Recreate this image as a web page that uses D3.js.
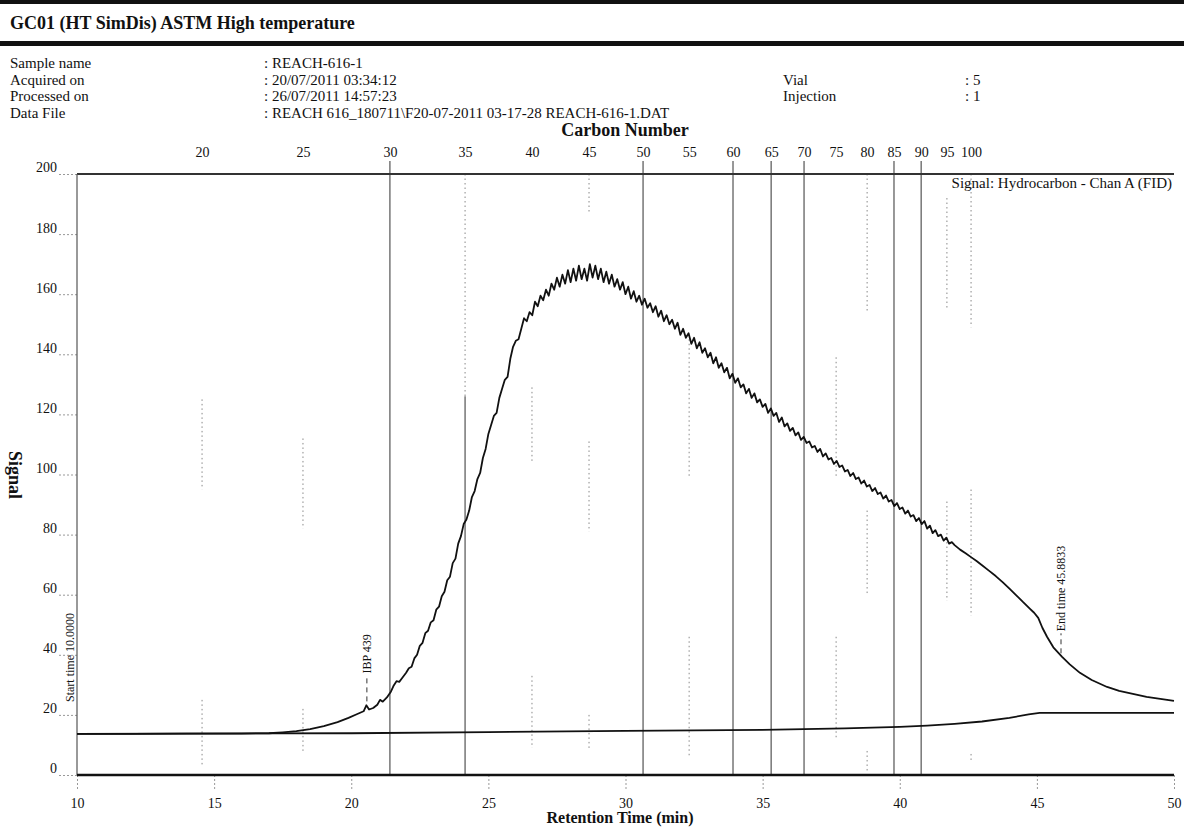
<!DOCTYPE html>
<html>
<head>
<meta charset="utf-8">
<script src="https://cdn.jsdelivr.net/npm/d3@7"></script>
<style>
  html, body { margin: 0; padding: 0; background: #fff; }
  svg { display: block; }
  text { font-family: "Liberation Serif", "Times New Roman", serif; fill: #111; }
</style>
</head>
<body>
<svg id="chart" width="1184" height="827"></svg>
<script>
// ---------- Data ----------
const title = "GC01 (HT SimDis) ASTM High temperature";
const metaLabels = ["Sample name", "Acquired on", "Processed on", "Data File"];
const metaValues = [": REACH-616-1", ": 20/07/2011 03:34:12", ": 26/07/2011 14:57:23",
  ": REACH 616_180711\\F20-07-2011 03-17-28 REACH-616-1.DAT"];
const metaLabels2 = ["Vial", "Injection"];
const metaValues2 = [": 5", ": 1"];

const timeTicks = [10, 15, 20, 25, 30, 35, 40, 45, 50];
const signalTicks = [0, 20, 40, 60, 80, 100, 120, 140, 160, 180, 200];

const carbonNumbers = [20, 25, 30, 35, 40, 45, 50, 55, 60, 65, 70, 75, 80, 85, 90, 95, 100];
const carbonTimes = [14.56, 18.24, 21.41, 24.15, 26.59, 28.67, 30.64, 32.32, 33.92, 35.31, 36.51, 37.68, 38.81, 39.79, 40.78, 41.72, 42.60];
const carbonSolid = [30, 35, 50, 60, 65, 70, 85, 90];
const carbonSolidTop = [205, 126, 205, 205, 205, 205, 205, 205]; // signal level where the solid part starts
// dotted marker segments [carbon, from signal, to signal]
const carbonDotted = [
  [20, 125, 95], [20, 25, 3],
  [25, 112, 82], [25, 22, 8],
  [35, 200, 126],
  [40, 129, 104], [40, 33, 9],
  [45, 200, 187], [45, 111, 81], [45, 20, 9],
  [55, 145, 99], [55, 46, 6],
  [75, 139, 99], [75, 46, 12],
  [80, 200, 154], [80, 88, 60], [80, 8, 1],
  [95, 192, 155], [95, 91, 58],
  [100, 200, 149], [100, 95, 53], [100, 7, 5]
];

// Chromatogram signal (retention time, signal)
const signalTime = [
  10, 12, 14, 16, 17, 17.5, 18, 18.5, 19, 19.5, 19.9, 20.2, 20.45, 20.55, 20.65, 20.8, 20.95, 21.05, 21.15, 21.3, 21.45, 21.55, 21.65, 21.75, 21.85,
  22.0, 22.1, 22.2, 22.3, 22.4, 22.5, 22.6, 22.7, 22.8, 22.9,
  23.0, 23.1, 23.2, 23.3, 23.4, 23.5, 23.6, 23.7, 23.8, 23.9,
  24.0, 24.1, 24.2, 24.3, 24.4, 24.5, 24.6, 24.7, 24.8, 24.9,
  25.0, 25.1, 25.2, 25.3, 25.4, 25.5, 25.6, 25.7, 25.8, 25.9,
  26.0, 26.1, 26.2, 26.3, 26.4, 26.5, 26.6, 26.7, 26.8, 26.9,
  27.0, 27.1, 27.2, 27.3, 27.4, 27.5, 27.6, 27.7, 27.8, 27.9,
  28.0, 28.1, 28.2, 28.3, 28.4, 28.5, 28.6, 28.7, 28.8, 28.9,
  29.0, 29.1, 29.2, 29.3, 29.4, 29.5, 29.6, 29.7, 29.8, 29.9,
  30.0, 30.1, 30.2, 30.3, 30.4, 30.5, 30.6, 30.7, 30.8, 30.9,
  31.0, 31.1, 31.2, 31.3, 31.4, 31.5, 31.6, 31.7, 31.8, 31.9,
  32.0, 32.1, 32.2, 32.3, 32.4, 32.5, 32.6, 32.7, 32.8, 32.9,
  33.0, 33.1, 33.2, 33.3, 33.4, 33.5, 33.6, 33.7, 33.8, 33.9,
  34.0, 34.1, 34.2, 34.3, 34.4, 34.5, 34.6, 34.7, 34.8, 34.9,
  35.0, 35.1, 35.2, 35.3, 35.4, 35.5, 35.6, 35.7, 35.8, 35.9,
  36.0, 36.1, 36.2, 36.3, 36.4, 36.5, 36.6, 36.7, 36.8, 36.9,
  37.0, 37.1, 37.2, 37.3, 37.4, 37.5, 37.6, 37.7, 37.8, 37.9,
  38.0, 38.1, 38.2, 38.3, 38.4, 38.5, 38.6, 38.7, 38.8, 38.9,
  39.0, 39.1, 39.2, 39.3, 39.4, 39.5, 39.6, 39.7, 39.8, 39.9,
  40.0, 40.1, 40.2, 40.3, 40.4, 40.5, 40.6, 40.7, 40.8, 40.9,
  41.0, 41.1, 41.2, 41.3, 41.4, 41.5, 41.6, 41.7, 41.8, 41.9,
  42.0, 42.2, 42.4, 42.6, 42.8, 43.0, 43.25, 43.5, 43.75, 44.0, 44.25, 44.5, 44.75, 44.9,
  45.05, 45.2, 45.37, 45.6, 45.92, 46.2, 46.57, 47.0, 47.56, 48.0, 48.5, 49.0, 49.5, 50.0
];
const signalValue = [
  13.7, 13.7, 13.8, 13.8, 13.9, 14.2, 14.6, 15.3, 16.3, 17.6, 19.0, 20.2, 21.2, 23.2, 21.8, 22.3, 23.4, 25.0, 24.4, 25.8, 27.8, 29.8, 31.2, 31.0, 32.2,
  34.0, 35.5, 36.0, 38.8, 40.0, 43.0, 44.0, 47.2, 48.0, 50.8,
  51.5, 55.0, 56.0, 59.5, 61.0, 64.8, 66.0, 70.5, 72.0, 77.0,
  79.5, 83.5, 85.0, 88.0, 92.5, 94.5, 98.5, 100.5, 105.5, 108.5,
  113.5, 116.5, 119.5, 120.5, 125.5, 128.5, 131.5, 132.5, 138.5, 142.5,
  144.5, 145.0, 148.5, 152.0, 151.0, 154.0, 153.0, 157.5, 156.0, 159.5,
  158.0, 161.5, 159.5, 163.5, 161.5, 165.5, 162.5, 166.5, 163.5, 168.0,
  164.0, 168.5, 164.5, 169.5, 165.0, 168.5, 164.5, 170.0, 165.5, 169.5,
  165.0, 168.5, 164.0, 167.5, 163.5, 166.5, 162.5, 165.0, 161.5, 164.0,
  160.0, 162.5, 158.5, 161.0, 157.5, 159.5, 156.5, 158.5, 155.5, 157.0,
  154.0, 156.0, 152.5, 154.5, 151.0, 153.0, 150.0, 151.5, 148.5, 150.5,
  146.5, 148.5, 145.5, 147.0, 143.5, 145.5, 142.0, 144.0, 140.5, 142.0,
  139.0, 140.5, 137.0, 139.0, 135.5, 137.0, 134.0, 135.5, 132.0, 133.5,
  130.5, 132.0, 129.0, 130.0, 127.0, 128.5, 125.5, 127.0, 124.0, 125.0,
  122.5, 123.5, 120.5, 122.0, 119.5, 120.5, 117.5, 119.0, 116.0, 117.0,
  114.5, 115.5, 113.0, 114.0, 111.5, 112.5, 110.5, 111.0, 109.0, 109.5,
  107.5, 108.5, 106.0, 107.0, 105.0, 105.5, 103.5, 104.5, 102.5, 103.0,
  101.0, 101.5, 99.5, 100.5, 98.5, 99.0, 97.0, 98.0, 96.0, 96.5,
  94.5, 95.5, 93.5, 94.0, 92.0, 93.0, 91.0, 91.5, 89.5, 90.5,
  88.5, 89.0, 87.0, 88.0, 86.0, 86.5, 84.5, 85.5, 83.5, 84.5,
  82.0, 83.0, 80.5, 81.5, 79.5, 80.0, 78.0, 79.0, 77.0, 77.5,
  76.5, 75.0, 73.8, 72.5, 71.2, 69.8, 68.0, 66.2, 64.2, 62.0, 59.8, 57.5, 55.3, 54.0,
  52.3, 49.0, 46.0, 42.5, 39.3, 36.8, 34.0, 31.6, 29.3, 28.0, 27.0, 26.0, 25.3, 24.7
];

// Baseline (blank) trace
const baselineTime = [10, 20, 25, 30, 35, 38, 40, 41, 42, 43, 44, 44.7, 45.1, 50];
const baselineValue = [13.7, 13.9, 14.3, 14.7, 15.0, 15.5, 16.0, 16.4, 17.0, 17.8, 19.0, 20.2, 20.7, 20.7];

// Annotations
const annotations = [
  { t: 20.57, v: 23.5, label: "IBP 439", lead: 26 },
  { t: 45.88, v: 39.5, label: "End time 45.8833", lead: 20 }
];
const startLabel = "Start time 10.0000";

// ---------- Drawing ----------
const svg = d3.select("#chart");
const x = d3.scaleLinear().domain([10, 50]).range([77, 1174]);
const y = d3.scaleLinear().domain([0, 200]).range([775, 174]);
const carbonX = d3.scaleLinear().domain(carbonNumbers).range(carbonTimes.map(t => x(t)));

// header bars & title
svg.append("rect").attr("x", 0).attr("y", 0).attr("width", 1184).attr("height", 4).attr("fill", "#111");
svg.append("rect").attr("x", 0).attr("y", 41).attr("width", 1184).attr("height", 5).attr("fill", "#111");
svg.append("text").attr("x", 10).attr("y", 29).attr("font-size", 18).attr("font-weight", "bold").text(title);

const rowY = [68, 84.5, 101, 117.5];
svg.selectAll("text.ml").data(metaLabels).join("text").attr("class", "ml")
  .attr("x", 10).attr("y", (d, i) => rowY[i]).attr("font-size", 15).text(d => d);
svg.selectAll("text.mv").data(metaValues).join("text").attr("class", "mv")
  .attr("x", 264).attr("y", (d, i) => rowY[i]).attr("font-size", 15).text(d => d);
svg.selectAll("text.ml2").data(metaLabels2).join("text").attr("class", "ml2")
  .attr("x", 783).attr("y", (d, i) => rowY[i + 1]).attr("font-size", 15).text(d => d);
svg.selectAll("text.mv2").data(metaValues2).join("text").attr("class", "mv2")
  .attr("x", 965).attr("y", (d, i) => rowY[i + 1]).attr("font-size", 15).text(d => d);

// Carbon number axis (top)
svg.append("text").attr("x", 625).attr("y", 136).attr("text-anchor", "middle")
  .attr("font-size", 18).attr("font-weight", "bold").text("Carbon Number");
const topAxis = d3.axisTop(carbonX).tickValues(carbonNumbers).tickSize(0).tickPadding(0);
const gTop = svg.append("g").attr("transform", "translate(0,157)").call(topAxis);
gTop.select(".domain").remove();
gTop.selectAll("text").attr("font-size", 14).attr("font-family", "Liberation Serif").attr("fill", "#111").attr("dy", 0);

// Carbon marker lines
svg.append("g").selectAll("line").data(carbonDotted).join("line")
  .attr("x1", d => carbonX(d[0])).attr("x2", d => carbonX(d[0]))
  .attr("y1", d => y(d[1])).attr("y2", d => y(d[2]))
  .attr("stroke", "#888").attr("stroke-width", 1).attr("stroke-dasharray", "1.5,3");
svg.append("g").selectAll("line").data(d3.zip(carbonSolid, carbonSolidTop)).join("line")
  .attr("x1", d => carbonX(d[0])).attr("x2", d => carbonX(d[0]))
  .attr("y1", d => Math.max(161, y(d[1]))).attr("y2", y(0))
  .attr("stroke", "#444").attr("stroke-width", 1.1);

// Y axis
const yAxis = d3.axisLeft(y).tickValues(signalTicks).tickSize(18).tickPadding(2);
const gY = svg.append("g").attr("transform", "translate(77,0)").call(yAxis);
gY.select(".domain").remove();
gY.selectAll(".tick line").attr("stroke", "#999").attr("stroke-dasharray", "2,2");
gY.selectAll("text").attr("font-size", 14).attr("font-family", "Liberation Serif").attr("fill", "#111").attr("dy", "-0.15em");
svg.append("text").attr("transform", "translate(9,475) rotate(90)").attr("text-anchor", "middle")
  .attr("font-size", 18).attr("font-weight", "bold").text("Signal");

// X axis
const xAxis = d3.axisBottom(x).tickValues(timeTicks).tickSize(15).tickPadding(8);
const gX = svg.append("g").attr("transform", "translate(0," + y(0) + ")").call(xAxis);
gX.select(".domain").remove();
gX.selectAll(".tick line").attr("stroke", "#999").attr("stroke-dasharray", "2,2");
gX.selectAll("text").attr("font-size", 14).attr("font-family", "Liberation Serif").attr("fill", "#111");
svg.append("text").attr("x", 620).attr("y", 823).attr("text-anchor", "middle")
  .attr("font-size", 16).attr("font-weight", "bold").text("Retention Time (min)");

// Frame
svg.append("line").attr("x1", x(10)).attr("x2", x(50)).attr("y1", y(200)).attr("y2", y(200))
  .attr("stroke", "#333").attr("stroke-width", 2);
svg.append("line").attr("x1", x(10)).attr("x2", x(10)).attr("y1", y(200)).attr("y2", y(0))
  .attr("stroke", "#555").attr("stroke-width", 1.2);
svg.append("line").attr("x1", x(10)).attr("x2", x(50)).attr("y1", y(0)).attr("y2", y(0))
  .attr("stroke", "#111").attr("stroke-width", 2.5);

svg.append("text").attr("x", 1172).attr("y", 188).attr("text-anchor", "end")
  .attr("font-size", 15).text("Signal: Hydrocarbon - Chan A (FID)");

// Traces
const line = d3.line().x(d => x(d[0])).y(d => y(d[1]));
svg.append("path").datum(d3.zip(baselineTime, baselineValue)).attr("d", line)
  .attr("fill", "none").attr("stroke", "#111").attr("stroke-width", 1.8);
svg.append("path").datum(d3.zip(signalTime, signalValue)).attr("d", line)
  .attr("fill", "none").attr("stroke", "#111").attr("stroke-width", 1.8).attr("stroke-linejoin", "round");

// Annotations
annotations.forEach(a => {
  const ax = x(a.t), ay = y(a.v) - 3;
  svg.append("line").attr("x1", ax).attr("x2", ax).attr("y1", ay).attr("y2", ay - a.lead)
    .attr("stroke", "#333").attr("stroke-width", 1).attr("stroke-dasharray", "5,4");
  svg.append("text").attr("transform", `translate(${ax + 4},${ay - a.lead - 2}) rotate(-90)`)
    .attr("font-size", 12).text(a.label);
});
svg.append("text").attr("transform", `translate(${x(10) - 3},702) rotate(-90)`)
  .attr("font-size", 12).text(startLabel);
</script>
</body>
</html>
